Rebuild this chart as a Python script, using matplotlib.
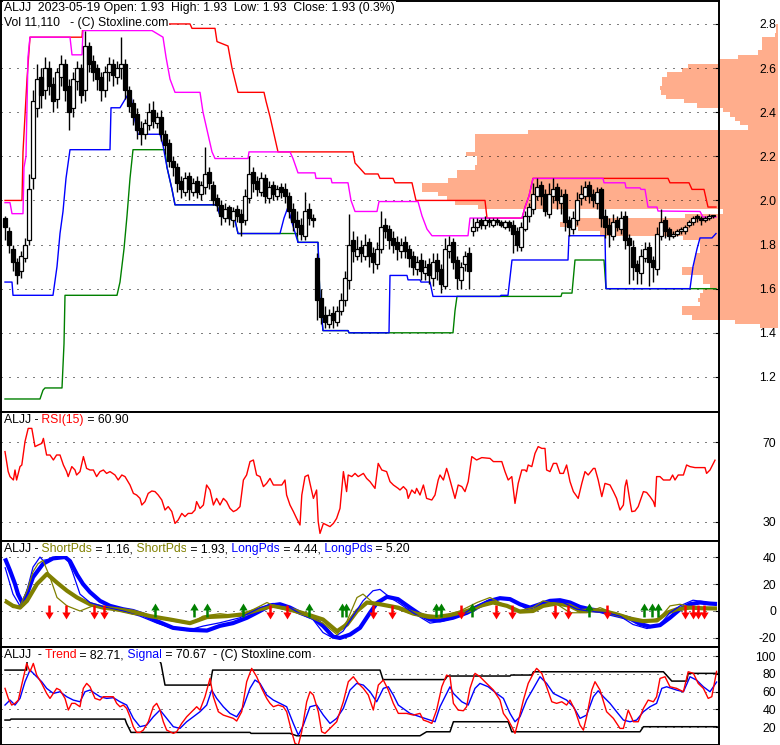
import matplotlib
matplotlib.use("Agg")
import matplotlib.pyplot as plt
import numpy as np
from matplotlib.path import Path

plt.rcParams['font.family'] = ['Liberation Sans', 'DejaVu Sans']
FS = 8.8

# ---------------- data ----------------
title1 = "ALJJ  2023-05-19 Open: 1.93  High: 1.93  Low: 1.93  Close: 1.93 (0.3%)"
title2 = "Vol 11,110   - (C) Stoxline.com"

closes = [1.88, 1.80, 1.72, 1.66, 1.75, 1.80, 2.05, 2.45, 2.55, 2.48,
          2.60, 2.52, 2.45, 2.58, 2.62, 2.50, 2.40, 2.55, 2.60, 2.48,
          2.70, 2.62, 2.58, 2.55, 2.50, 2.58, 2.62, 2.57, 2.60, 2.62,
          2.50, 2.43, 2.38, 2.32, 2.30, 2.35, 2.40, 2.36, 2.38, 2.30,
          2.25, 2.18, 2.15, 2.08, 2.05, 2.10, 2.05, 2.08, 2.04, 2.07,
          2.12, 2.08, 2.00, 1.98, 1.93, 1.96, 1.92, 1.95, 1.93, 1.90,
          2.02, 2.12, 2.08, 2.05, 2.10, 2.02, 2.06, 2.03, 2.05, 2.04,
          2.02, 1.95, 1.90, 1.88, 1.85, 1.95, 1.92, 1.91, 1.55, 1.47,
          1.45, 1.48, 1.46, 1.50, 1.55, 1.65, 1.80, 1.77, 1.78, 1.76,
          1.80, 1.75, 1.72, 1.78, 1.88, 1.86, 1.82, 1.80, 1.78, 1.80,
          1.77, 1.74, 1.70, 1.72, 1.68, 1.70, 1.66, 1.72, 1.68, 1.62,
          1.78, 1.80, 1.72, 1.65, 1.70, 1.75, 1.68, 1.88, 1.90, 1.89,
          1.91, 1.90, 1.91, 1.90, 1.89, 1.90, 1.88, 1.85, 1.80, 1.88,
          1.93, 1.97, 2.03, 2.06, 2.02, 1.95, 2.03, 2.05, 2.00, 2.02,
          1.90, 1.88, 1.92, 2.00, 2.03, 2.06, 2.02, 2.00, 2.04, 1.92,
          1.88, 1.85, 1.90, 1.88, 1.92, 1.82, 1.80, 1.70, 1.68, 1.75,
          1.78, 1.72, 1.70, 1.85, 1.90, 1.86, 1.84, 1.85, 1.86, 1.87,
          1.88, 1.90, 1.92, 1.92, 1.91, 1.92, 1.93, 1.93]

opens = [1.92, 1.86, 1.78, 1.72, 1.68, 1.74, 1.82, 2.10, 2.42, 2.56,
         2.50, 2.60, 2.53, 2.46, 2.56, 2.62, 2.52, 2.42, 2.54, 2.60,
         2.50, 2.70, 2.63, 2.60, 2.56, 2.50, 2.58, 2.62, 2.56, 2.60,
         2.62, 2.50, 2.44, 2.39, 2.33, 2.30, 2.34, 2.41, 2.35, 2.38,
         2.30, 2.26, 2.18, 2.15, 2.09, 2.04, 2.11, 2.04, 2.09, 2.03,
         2.06, 2.13, 2.07, 2.01, 1.98, 1.92, 1.97, 1.91, 1.96, 1.94,
         1.91, 2.01, 2.13, 2.09, 2.04, 2.10, 2.01, 2.07, 2.02, 2.06,
         2.05, 2.02, 1.96, 1.91, 1.89, 1.84, 1.96, 1.92, 1.74, 1.56,
         1.48, 1.44, 1.49, 1.45, 1.50, 1.55, 1.64, 1.82, 1.75, 1.79,
         1.75, 1.81, 1.76, 1.71, 1.78, 1.89, 1.87, 1.83, 1.81, 1.77,
         1.81, 1.78, 1.75, 1.69, 1.73, 1.67, 1.71, 1.65, 1.73, 1.69,
         1.61, 1.77, 1.81, 1.73, 1.64, 1.71, 1.76, 1.86, 1.88, 1.91,
         1.89, 1.91, 1.89, 1.91, 1.90, 1.88, 1.90, 1.89, 1.86, 1.79,
         1.87, 1.93, 1.96, 2.02, 2.07, 2.03, 1.94, 2.02, 2.06, 1.99,
         2.03, 1.91, 1.87, 1.91, 2.01, 2.02, 2.07, 2.03, 1.99, 2.05,
         1.93, 1.89, 1.84, 1.91, 1.87, 1.93, 1.83, 1.79, 1.71, 1.67,
         1.74, 1.79, 1.73, 1.69, 1.84, 1.91, 1.87, 1.84, 1.85, 1.86,
         1.86, 1.89, 1.90, 1.93, 1.92, 1.91, 1.92, 1.93]

highs = [1.93, 1.88, 1.80, 1.74, 1.77, 1.83, 2.12, 2.50, 2.62, 2.60,
         2.65, 2.63, 2.56, 2.60, 2.66, 2.64, 2.55, 2.58, 2.63, 2.62,
         2.77, 2.72, 2.66, 2.62, 2.58, 2.61, 2.65, 2.64, 2.63, 2.74,
         2.64, 2.52, 2.46, 2.42, 2.36, 2.37, 2.44, 2.45, 2.40, 2.41,
         2.32, 2.28, 2.20, 2.17, 2.11, 2.13, 2.13, 2.10, 2.11, 2.09,
         2.24, 2.15, 2.09, 2.03, 2.00, 1.99, 1.98, 1.97, 1.98, 1.96,
         2.05, 2.20, 2.15, 2.11, 2.13, 2.12, 2.09, 2.09, 2.07, 2.08,
         2.08, 2.04, 1.99, 1.95, 1.92, 2.04, 1.99, 1.94, 1.76, 1.60,
         1.52, 1.51, 1.52, 1.52, 1.58, 1.68, 1.94, 1.86, 1.84, 1.82,
         1.85, 1.83, 1.79, 1.81, 1.95, 1.92, 1.89, 1.86, 1.84, 1.83,
         1.84, 1.80, 1.77, 1.75, 1.76, 1.73, 1.74, 1.76, 1.76, 1.71,
         1.83, 1.84, 1.83, 1.75, 1.72, 1.77, 1.79, 1.92, 1.92, 1.92,
         1.93, 1.92, 1.92, 1.92, 1.91, 1.91, 1.91, 1.91, 1.88, 1.90,
         1.95, 1.99, 2.08, 2.10, 2.09, 2.05, 2.08, 2.10, 2.08, 2.05,
         2.05, 1.93, 1.95, 2.04, 2.07, 2.09, 2.09, 2.05, 2.06, 2.06,
         1.96, 1.92, 1.94, 1.93, 1.95, 1.95, 1.85, 1.82, 1.73, 1.78,
         1.81, 1.81, 1.75, 1.88, 1.96, 1.93, 1.88, 1.86, 1.87, 1.88,
         1.89, 1.91, 1.93, 1.94, 1.93, 1.93, 1.94, 1.93]

lows = [1.82, 1.76, 1.68, 1.62, 1.65, 1.72, 1.80, 2.05, 2.38, 2.42,
        2.46, 2.48, 2.40, 2.42, 2.52, 2.45, 2.32, 2.38, 2.50, 2.44,
        2.45, 2.58, 2.54, 2.50, 2.45, 2.47, 2.54, 2.52, 2.53, 2.55,
        2.46, 2.40, 2.34, 2.28, 2.25, 2.28, 2.32, 2.33, 2.33, 2.27,
        2.21, 2.15, 2.11, 2.04, 2.01, 2.02, 2.00, 2.02, 2.01, 2.00,
        2.03, 2.05, 1.98, 1.95, 1.89, 1.90, 1.89, 1.88, 1.90, 1.84,
        1.89, 1.99, 2.04, 2.02, 2.02, 1.99, 1.99, 2.00, 2.00, 2.01,
        1.99, 1.92, 1.86, 1.84, 1.82, 1.82, 1.89, 1.88, 1.46, 1.44,
        1.42, 1.42, 1.42, 1.43, 1.48, 1.52, 1.60, 1.72, 1.73, 1.72,
        1.73, 1.70, 1.67, 1.69, 1.76, 1.83, 1.78, 1.76, 1.73, 1.74,
        1.74, 1.70, 1.66, 1.66, 1.64, 1.64, 1.62, 1.61, 1.64, 1.58,
        1.60, 1.74, 1.69, 1.60, 1.60, 1.68, 1.60, 1.84, 1.86, 1.87,
        1.87, 1.88, 1.88, 1.89, 1.88, 1.87, 1.86, 1.76, 1.77, 1.77,
        1.86, 1.90, 1.94, 2.00, 1.98, 1.93, 1.92, 1.99, 1.96, 1.94,
        1.86, 1.84, 1.85, 1.89, 1.98, 2.00, 1.99, 1.97, 1.96, 1.88,
        1.83, 1.79, 1.82, 1.86, 1.85, 1.78, 1.62, 1.64, 1.62, 1.62,
        1.72, 1.61, 1.63, 1.66, 1.82, 1.83, 1.82, 1.83, 1.84, 1.85,
        1.85, 1.88, 1.89, 1.90, 1.89, 1.90, 1.91, 1.92]

# price channels: (bar index, price)
long_high = [(0, 2.00), (4.25, 2.00), (4.5, 2.22), (5.5, 2.55), (6.25, 2.74), (19.25, 2.74),
             (19.5, 2.80), (46.25, 2.80), (46.75, 2.78), (52.5, 2.78), (53, 2.72), (55.75, 2.70),
             (56.75, 2.60), (58.25, 2.49), (64.75, 2.49), (65.25, 2.45), (66.25, 2.38), (67.5, 2.28),
             (68.25, 2.22), (87, 2.22), (87.5, 2.17), (88.5, 2.15), (90, 2.12), (93.25, 2.12),
             (93.75, 2.10), (97, 2.10), (97.5, 2.08), (101.75, 2.08), (102.75, 2.00), (120, 2.00),
             (120.5, 1.92), (129.25, 1.92), (130, 1.97), (131, 2.02), (132, 2.10), (165.75, 2.10),
             (166.25, 2.08), (171, 2.08), (171.75, 2.05), (174.75, 2.05), (175.75, 1.97), (177.75, 1.97)]
short_high = [(0, 1.99), (1.25, 1.99), (1.75, 1.94), (4.5, 1.94), (4.75, 2.15), (5.25, 2.20),
              (5.75, 2.65), (6.25, 2.74), (16.25, 2.74), (16.75, 2.66), (19.25, 2.66), (19.5, 2.77),
              (36.75, 2.77), (39.5, 2.74), (40.25, 2.65), (41.25, 2.55), (42.5, 2.49), (48.75, 2.49),
              (49.5, 2.40), (50.5, 2.32), (51.75, 2.22), (52.5, 2.19), (60.75, 2.19), (61, 2.22),
              (71.25, 2.22), (72, 2.19), (73.25, 2.125), (77.5, 2.125), (77.75, 2.10), (81.5, 2.10),
              (81.75, 2.08), (85.75, 2.08), (86.5, 2.00), (87.5, 1.95), (93, 1.95), (93.5, 1.995),
              (103.25, 1.995), (104.25, 1.93), (105.5, 1.87), (106.75, 1.84), (115.75, 1.84),
              (116.25, 1.92), (129.25, 1.92), (130, 1.97), (131, 2.02), (132, 2.10), (149.5, 2.10),
              (149.75, 2.08), (155, 2.08), (155.25, 2.057), (158.75, 2.057), (159, 2.05), (160, 2.05),
              (160.75, 1.97), (163, 1.97), (163.25, 1.952), (173.75, 1.95), (174.5, 1.925), (177.75, 1.925)]
short_low = [(0, 1.63), (1.75, 1.63), (2, 1.57), (12, 1.57), (13, 1.70), (13.75, 1.85), (14.5, 1.95),
             (15.25, 2.10), (16.25, 2.23), (26.25, 2.23), (26.5, 2.42), (28.75, 2.42), (29.75, 2.45),
             (30.75, 2.48), (31.5, 2.48), (32, 2.40), (33.25, 2.30), (38.75, 2.30), (39.5, 2.25),
             (40.5, 2.15), (41.75, 2.05), (42.5, 1.98), (53, 1.98), (53.75, 1.93), (57.5, 1.91),
             (58.25, 1.85), (68.75, 1.85), (69.75, 1.92), (70.75, 1.97), (71.75, 1.90), (73.25, 1.81),
             (78.25, 1.81), (78.75, 1.55), (79.5, 1.41), (85.75, 1.41), (86, 1.40), (96, 1.40),
             (96.25, 1.66), (100.5, 1.66), (100.75, 1.64), (103.75, 1.64), (104, 1.63), (106.25, 1.63),
             (107, 1.565), (123.75, 1.565), (124, 1.57), (125.75, 1.57), (126.75, 1.73), (140.75, 1.73),
             (141, 1.84), (150, 1.84), (150.25, 1.60), (171.25, 1.60), (172, 1.70), (173, 1.78),
             (173.75, 1.83), (176.75, 1.83), (177.75, 1.85)]
long_low = [(0, 1.10), (8.75, 1.10), (9.5, 1.14), (10, 1.15), (14.25, 1.15), (14.75, 1.35), (15, 1.57),
            (28, 1.57), (28.75, 1.63), (29.75, 1.78), (30.5, 1.93), (31.25, 2.10), (32, 2.23), (40, 2.23),
            (40.5, 2.15), (41.75, 2.05), (42.5, 1.98), (53, 1.98), (53.75, 1.93), (57.5, 1.91),
            (58.25, 1.85), (73, 1.85), (73.25, 1.81), (78.25, 1.81), (78.75, 1.55), (79.5, 1.41),
            (85.75, 1.41), (86, 1.40), (112, 1.40), (112.5, 1.50), (113, 1.565), (139, 1.565),
            (139.25, 1.58), (141.75, 1.58), (142.25, 1.68), (142.5, 1.73), (149.75, 1.73),
            (150.25, 1.60), (177.75, 1.60)]

# volume-by-price profile
prof_price = [1.43, 1.45, 1.47, 1.49, 1.51, 1.53, 1.55, 1.57, 1.59, 1.61,
              1.63, 1.65, 1.67, 1.69, 1.71, 1.73, 1.75, 1.77, 1.79, 1.81,
              1.83, 1.85, 1.87, 1.89, 1.91, 1.93, 1.95, 1.97, 1.99, 2.01,
              2.03, 2.05, 2.07, 2.09, 2.11, 2.13, 2.15, 2.17, 2.19, 2.21,
              2.23, 2.25, 2.27, 2.29, 2.31, 2.33, 2.35, 2.37, 2.39, 2.41,
              2.43, 2.45, 2.47, 2.49, 2.51, 2.53, 2.55, 2.57, 2.59, 2.61,
              2.63, 2.65, 2.67, 2.69, 2.71, 2.73, 2.75, 2.77, 2.79]
prof_vol = [18, 43, 86, 96, 96, 78, 80, 78, 75, 68,
            75, 75, 96, 96, 84, 84, 83, 78, 78, 78,
            95, 178, 200, 218, 203, 93, 55, 300, 323, 331,
            340, 356, 356, 330, 321, 321, 303, 301, 301, 312,
            303, 303, 303, 303, 250, 30, 38, 43, 48, 55,
            81, 94, 112, 117, 118, 116, 116, 111, 96, 90,
            60, 40, 20, 16, 16, 16, 3, 2, 2]

# RSI(15): (bar index, value)
rsi = [(0, 65.2), (0.8, 55.2), (1.25, 52.7), (2.1, 51), (2.5, 56), (2.9, 51), (3.75, 57.7), (4.2, 58.5),
       (5, 70.2), (5.8, 76.8), (6.7, 76.8), (7.5, 67.7), (8.3, 68.5), (9.2, 69.3), (9.6, 71.8),
       (10.4, 63.5), (11.25, 63.5), (12.1, 61), (12.9, 63.5), (13.75, 63.5), (14.6, 58.5), (15.4, 55.2),
       (15.8, 52.7), (16.7, 57.7), (17.5, 56), (17.9, 53.5), (18.75, 55.2), (19.6, 62.7), (20.4, 56.8),
       (21.25, 56), (22.1, 56), (22.9, 52.7), (23.75, 55.2), (24.6, 56), (25.4, 54.3), (26.25, 55.2),
       (27.5, 53.5), (28.3, 51), (29.2, 53.5), (30, 52.7), (31.25, 48.5), (32.1, 44.3), (32.9, 43.5),
       (33.75, 41.8), (34.2, 38.5), (35, 40.2), (35.8, 44.3), (36.7, 45.5), (37.5, 45.2), (38.3, 43.5),
       (39.2, 41), (40, 36), (40.8, 37.7), (41.7, 35.2), (42.5, 29.3), (43.3, 31), (44.2, 34.3),
       (45, 32.7), (45.8, 34.3), (46.7, 34.3), (47.5, 36), (47.9, 40.2), (48.75, 36.8), (49.6, 38.5),
       (50.4, 48.5), (51.25, 46), (52.1, 38.5), (52.9, 41.8), (53.75, 38.5), (54.6, 41.8), (55.4, 40.2),
       (56.25, 36.8), (57.1, 35.2), (57.9, 36), (58.75, 37.7), (59.6, 51), (60.4, 53.5), (61.25, 60.2),
       (62.1, 61), (62.9, 53.5), (63.75, 52.7), (64.6, 47.7), (65.4, 49.3), (66.25, 51.8), (67.1, 48.5),
       (67.9, 48.5), (69.2, 48.5), (70, 51), (70.4, 43.5), (71.25, 38.5), (72.1, 35.2), (72.9, 31.8),
       (73.75, 28.5), (74.2, 43.5), (75, 52.7), (75.8, 53.5), (76.25, 49.3), (77.1, 41.8), (77.9, 46),
       (78.3, 30.2), (78.75, 24.3), (79.6, 29.3), (80.4, 28.5), (81.25, 27.7), (82.1, 29.3), (82.9, 31.8),
       (83.75, 36.8), (84.6, 55.2), (85.4, 45.2), (85.8, 53.5), (86.7, 52.7), (87.5, 54.3), (88.3, 52.7),
       (89.6, 54.3), (90.4, 51.8), (91.25, 50.2), (92.5, 46.8), (93.3, 59.3), (94.2, 56), (95.4, 55.2),
       (96.25, 50.2), (97.1, 48.5), (98.3, 46.8), (98.75, 46), (99.6, 47.7), (100.4, 46), (100.8, 41.8),
       (101.7, 46), (102.5, 44.3), (102.9, 46.8), (103.75, 43.5), (104.6, 48.5), (105.4, 41.8),
       (106.7, 41), (107.5, 43.5), (108.3, 51), (108.75, 53.5), (109.6, 51), (110.4, 56.8), (110.8, 54.3),
       (111.7, 47.7), (112.5, 41.8), (113.3, 48.5), (114.2, 47.7), (115, 45.2), (115.8, 50.2),
       (116.7, 62.7), (117.9, 61), (119.2, 62.2), (121.25, 61.8), (122.1, 60.2), (122.9, 60.2),
       (124.2, 60.2), (125, 55.2), (125.8, 51), (126.7, 52.7), (127.5, 39.3), (128.3, 49.3), (129.2, 56),
       (130, 56), (130.4, 55.2), (130.8, 58.5), (131.7, 57.7), (132.5, 64.3), (133.3, 67.7), (134.2, 66.8),
       (135, 66.8), (135.4, 56), (136.25, 55.2), (137.1, 59.3), (137.9, 59.3), (138.75, 54.3),
       (139.6, 54.3), (140.4, 58.5), (141.25, 50.2), (142.1, 45.2), (143.3, 41.8), (144.2, 49.3),
       (145, 55.2), (145.8, 53.5), (147.1, 56.8), (147.5, 56.8), (148.3, 51), (149.2, 42.7), (150, 49.3),
       (151.25, 48.5), (152.1, 45.2), (152.9, 41.8), (153.75, 36), (154.6, 38.5), (155, 47.7), (155.4, 51),
       (156.25, 40.2), (156.7, 35.2), (157.5, 35.5), (158.3, 37.7), (159.6, 45.2), (160.4, 44.8),
       (161.25, 42.7), (162.1, 40.2), (162.5, 37.7), (162.9, 52.7), (163.75, 52.7), (164.6, 51),
       (166.25, 51), (166.9, 53.5), (167.5, 51), (168.3, 53.5), (169.6, 53.5), (170.4, 58.5),
       (171.25, 57.7), (172.5, 57.2), (175, 57.2), (175.4, 54.3), (176.25, 56), (177.5, 60.9)]

# ShortPds / LongPds oscillators: (bar index, value)
long_thick = [(0, 39), (1.25, 30), (2.5, 20), (3.25, 12.5), (4.5, 5), (5.5, 12.5), (7, 25), (9.5, 35),
              (12, 39), (15, 40), (16.25, 37), (18, 27), (19.5, 20), (21.25, 14), (23.75, 7.5),
              (26.25, 3.8), (29.5, 1.3), (32, 0), (34.5, -2.5), (38, -7.5), (42, -12.5), (46.25, -14),
              (50.5, -14.5), (53.75, -11), (57, -9), (60.5, -5), (63.75, 0), (66.25, 4), (68.75, 5),
              (71.25, 2.5), (73.75, -1.3), (77, -5), (79.5, -11), (82, -19), (83.75, -20), (86.25, -17.5),
              (88.75, -12.5), (91.25, -1.3), (93, 6), (95.5, 10.5), (98.25, 8.8), (101.25, 2.5),
              (103.75, -2.5), (106.25, -6.4), (108.75, -7), (112, -5), (115.5, -1.3), (118.75, 3.8),
              (121.25, 7.5), (123.75, 9.5), (126.25, 8.8), (128.75, 5), (131.25, 2.5), (133.75, 5),
              (136.25, 7.5), (138.75, 8), (141.25, 6.3), (143.75, 3), (146.25, 1.3), (148.75, 0),
              (151.25, -2), (153.75, -3.8), (156.25, -5.6), (158.75, -9.6), (161.25, -11.6),
              (163.75, -10.5), (166.25, -5), (168.75, 1.3), (171.25, 5), (173.75, 6.3), (176.25, 5.5),
              (178, 5.2)]
short_thick = [(0, 7.5), (2, 3.8), (3.75, 2.5), (5.5, 7.5), (8, 20), (10.5, 27.5), (13, 21), (15.5, 15),
               (18, 10), (21.25, 5), (24.5, 2.5), (28, 1.3), (32, -0.5), (36.25, -3.8), (41.25, -6.3),
               (46.25, -9), (50.5, -4.5), (55.5, -3.8), (59.5, -2.5), (63.75, 1.3), (67, 3.8),
               (71.25, 1.3), (75.5, -2.5), (79.5, -6.3), (83, -15), (85.5, -10), (88, 0), (90.5, 6.3),
               (93.75, 5), (98.25, 2.5), (102, -1.3), (105.5, -3.8), (108, -4.5), (111.25, -3),
               (115.5, 0), (118.75, 3.8), (122, 6.3), (125.5, 3.8), (128.75, -0.5), (132, 0),
               (134.5, 3.8), (138, 5.6), (141.25, 3.8), (143.75, 0), (147, 0.5), (149.5, 0),
               (153, -2.5), (156.25, -5.6), (159.5, -7.5), (163, -7), (165.5, -1.3), (168, 1.3),
               (171.25, 2.5), (174.5, 2), (178, 1.9)]
long_thin = [(0, 32.5), (2, 12.5), (3.75, 3.8), (5.5, 15), (7, 32.5), (8.75, 40), (9.5, 37.5),
             (13.75, 40), (15.5, 39), (16.75, 30), (18.75, 12.5), (21.25, 6.3), (25.5, 2.5), (29.5, 0),
             (33.75, -3.8), (38, -9), (42, -13), (45.5, -14.5), (49.5, -11.2), (53.75, -8.7),
             (58.75, -5), (63.75, 2.5), (67, 5.6), (70.5, 3.8), (73.75, -2), (77, -6.3), (79.5, -16),
             (82, -20), (84.5, -15), (87, -3.8), (89.5, 7.5), (92, 15), (93.75, 16), (96.25, 10),
             (98.25, 6.3), (102, -1.3), (106.25, -9), (109.5, -7.5), (113.75, -3.8), (117, 2.5),
             (120.5, 7.5), (123.75, 10), (127, 7.5), (130.5, 1.3), (133.75, 5), (136.25, 7.5),
             (139.5, 6.3), (143, 1.3), (147, -0.5), (150.5, -1.3), (153.75, -3.8), (157, -10),
             (160.5, -13), (163.75, -10), (166.25, -1.3), (168.75, 3.8), (172, 8), (174.5, 7), (178, 4.4)]
short_thin = [(0, 8.8), (2, 2.5), (3.75, 3.8), (5.5, 15), (7, 29), (8.25, 35), (9.5, 37.5), (11.25, 25),
              (13, 10), (15.5, 3.8), (18.75, 0), (22, 3.8), (26.25, 1.3), (32, -2.5), (36.25, -3.8),
              (42, -7.5), (46.25, -9.5), (49.5, -3.8), (53.75, -2), (58.75, -3.8), (63, 2.5),
              (65.5, 6.3), (68, 2.5), (71.25, 0), (75.5, -3.8), (79.5, -9), (83, -17.5), (85.5, -7.5),
              (88, 10), (89.5, 12.5), (92, 6.3), (95.5, 3.8), (98.25, 1.3), (102, -3), (106.25, -5.6),
              (110.5, -3), (113.75, 0), (118, 6.3), (121.25, 10), (124.5, 5), (128, 0), (132, 2.5),
              (134.5, 7.5), (138, 5), (141.25, -1.3), (145.5, -1.3), (148.75, 2.5), (152, -1.3),
              (156.25, -5), (160.5, -8), (163.75, -5), (166.25, 3.8), (168.75, 5), (172, 2.5),
              (175.5, 2.5), (178, 1.2)]
buy_signals = [37.5, 47.25, 50.5, 59.5, 76, 84.25, 85.25, 107.75, 109, 116.75, 146, 159.75, 161.75, 163.25]
sell_signals = [11, 15.25, 22.25, 24.75, 66.25, 70.5, 92, 96.75, 114, 122.75, 126.75, 137.5, 140.75,
                150.5, 170, 172, 173.25, 174.75]

# Trend / Signal: (bar index, value)
trend = [(0, 63.6), (0.83, 52.3), (1.67, 44.8), (2.5, 46.7), (3.33, 50.4), (4.17, 67.3), (5.42, 91.7),
         (6.25, 82.4), (7.08, 91.7), (7.92, 78.6), (9.17, 69.2), (10.42, 57.9), (11.25, 52.3),
         (12.08, 57.9), (12.92, 63.6), (13.75, 61.7), (15, 52.3), (15.83, 39.2), (16.67, 46.7),
         (17.5, 46.7), (18.75, 42.9), (19.58, 63.6), (20.42, 69.2), (21.25, 65.4), (22.5, 52.3),
         (23.75, 50.4), (24.58, 54.2), (25.83, 54.2), (27.08, 54.2), (27.92, 46.7), (28.75, 42.9),
         (29.58, 44.8), (30.42, 41), (31.25, 31.6), (32.08, 20.4), (32.92, 14), (33.75, 14),
         (34.58, 16.6), (35.83, 26), (37.08, 42.9), (37.92, 46.7), (38.75, 39.2), (39.58, 26),
         (40.42, 16.6), (41.25, 14.7), (42.08, 12.9), (42.92, 14.7), (44.17, 24.1), (45.42, 31.6),
         (46.67, 37.3), (47.92, 42.9), (48.75, 39.2), (50, 54.2), (51.25, 74.8), (52.08, 54.2),
         (53.33, 37.3), (54.58, 33.5), (55.83, 31.6), (57.08, 29.8), (57.92, 26.8), (59.17, 37.3),
         (60.42, 71.1), (61.67, 86.1), (62.92, 76.7), (64.17, 63.6), (65.42, 52.3), (66.25, 46.7),
         (67.08, 42.9), (68.33, 44.8), (69.58, 42.9), (70.42, 37.3), (71.67, 14.7), (72.5, 1.6),
         (73.33, -0.3), (74.17, 14.7), (75.42, 48.5), (76.25, 59.8), (77.08, 56.1), (78.33, 37.3),
         (79.17, 14.7), (80, 12.9), (81.25, 18.5), (82.92, 26), (84.58, 48.5), (85.83, 71.1),
         (87.08, 76.7), (88.33, 69.2), (89.58, 63.6), (90.83, 56.1), (92.08, 39.2), (93.33, 67.3),
         (94.58, 73), (95.83, 61.7), (97.08, 46.7), (98.33, 35.4), (100.4, 35.4), (102.1, 33.5),
         (103.75, 35.4), (104.6, 27.9), (105.8, 26), (106.7, 24.1), (107.9, 39.1), (109.2, 65.4),
         (110.4, 78.6), (111.25, 76.7), (112.1, 46.7), (113.3, 39.1), (114.6, 38.4), (115.4, 42.9),
         (116.25, 63.6), (117.5, 80.5), (118.75, 76.7), (120.4, 69.2), (122.1, 61.7), (123.75, 50.4),
         (124.6, 35.4), (125.8, 27.9), (126.7, 20.4), (127.5, 12.9), (128.3, 26), (129.6, 50.4),
         (130.8, 69.2), (132.1, 80.5), (132.9, 86.1), (134.2, 80.5), (135.4, 65.4), (136.7, 48.5),
         (137.9, 46.7), (139.2, 48.5), (140.4, 44.8), (141.25, 50.4), (142.5, 39.1), (143.75, 22.2),
         (144.6, 16.6), (145.4, 31.6), (146.7, 61.7), (147.5, 71.1), (148.75, 61.7), (150.4, 37.3),
         (152.1, 29.8), (153.75, 18.5), (154.6, 18.5), (155.8, 39.1), (157.1, 26), (158.3, 26),
         (159.6, 41), (160.8, 50.4), (162.1, 48.5), (162.9, 54.2), (163.75, 74.8), (165, 76.7),
         (166.25, 65.4), (167.9, 63.6), (169.6, 59.8), (170.8, 82.3), (172.1, 80.5), (173.3, 69.2),
         (174.6, 63.6), (175.8, 52.3), (176.7, 54.2), (177.9, 82.7)]
signal = [(0, 44.8), (1.25, 50.4), (2.5, 44.8), (3.75, 52.3), (5, 71.1), (6.25, 84.2), (7.5, 78.6),
          (9.17, 71.1), (10.42, 63.6), (12.08, 57.9), (13.75, 59.8), (15.42, 54.2), (17.08, 50.4),
          (18.75, 48.5), (20, 59.8), (21.25, 61.7), (22.5, 57.9), (23.75, 54.2), (25.42, 52.3),
          (27.08, 53.1), (28.75, 48.5), (30.42, 44.8), (32.08, 29.8), (33.75, 20.4), (35.42, 22.2),
          (37.08, 31.6), (38.75, 39.2), (40.42, 29.8), (42.08, 20.4), (43.75, 18.5), (45.42, 26),
          (47.08, 31.6), (48.75, 37.3), (50.42, 44.8), (51.67, 61.7), (52.92, 52.3), (54.58, 42.9),
          (56.25, 35.4), (57.92, 31.6), (59.58, 42.9), (61.25, 63.6), (62.5, 73), (63.75, 69.2),
          (65.42, 56.1), (67.08, 50.4), (68.75, 46.7), (70.42, 42.9), (72.08, 24.1), (73.33, 11),
          (74.58, 22.2), (76.25, 42.9), (77.92, 44.8), (79.58, 33.5), (81.25, 24.1), (82.92, 29.8),
          (84.58, 41), (86.25, 61.7), (87.92, 69.2), (89.58, 67.3), (91.25, 59.8), (92.92, 48.5),
          (94.58, 63.6), (95.83, 65.4), (97.08, 56.1), (98.33, 44.8), (101.25, 35.4), (103.75, 31.6),
          (106.25, 27.9), (107.5, 26), (108.75, 42.9), (110, 54.2), (111.25, 65.4), (112.1, 57.9),
          (114.2, 48.5), (115.8, 44.8), (117.5, 63.6), (118.75, 69.2), (120.8, 65.4), (122.9, 57.9),
          (124.6, 52.3), (126.25, 35.4), (127.5, 26), (128.75, 31.6), (130.4, 50.4), (132.1, 63.6),
          (133.75, 76.7), (135.4, 69.2), (137.1, 57.9), (138.75, 54.2), (140.4, 50.4), (142.1, 42.9),
          (143.75, 29.8), (145.4, 33.5), (147.1, 54.2), (148.3, 60.9), (149.6, 54.2), (151.25, 46.7),
          (152.9, 37.3), (154.6, 27.9), (156.25, 26), (157.9, 27.9), (159.6, 37.3), (161.25, 42.9),
          (162.9, 46.7), (164.2, 63.6), (165.4, 65.4), (167.9, 61.7), (169.6, 59.8), (171.25, 76.7),
          (172.9, 72.9), (174.6, 65.4), (176.25, 59.8), (177.9, 70.7)]
trend_upper = [(0, 84.2), (5.4, 84.2), (5.6, 100), (38, 100), (39, 91.7), (40, 67.3), (51.25, 67.3),
               (51.9, 84.2), (93.75, 84.2), (94.5, 73.5), (110, 73.5), (110.6, 77.5), (126.25, 77.5),
               (126.5, 78.6), (131.7, 78.6), (132.1, 82.3), (164.6, 82.3), (166.7, 71.8), (170.4, 71.8),
               (170.8, 80.5), (178, 80.5)]
trend_lower = [(0, 27.9), (1.25, 27.9), (1.5, 29), (30, 29), (30.4, 24), (31.5, 14), (61.25, 14),
               (61.5, 12.9), (71.25, 12.9), (72.9, 10.2), (103.75, 10.2), (105.4, 14.7), (111.25, 14.7),
               (112.1, 26), (125.8, 26), (126.7, 14.7), (158.75, 14.7), (159.6, 20.4), (178, 20.4)]

price_ticks = [1.2, 1.4, 1.6, 1.8, 2.0, 2.2, 2.4, 2.6, 2.8]
rsi_ticks = [30, 70]
osc_ticks = [-20, 0, 20, 40]
trend_ticks = [20, 40, 60, 80, 100]

# ---------------- layout ----------------
W, H, DPI = 780, 745, 100
fig = plt.figure(figsize=(W / DPI, H / DPI), dpi=DPI, facecolor='white')


def px_rect(x0, y0, x1, y1):
    return [x0 / W, 1 - y1 / H, (x1 - x0) / W, (y1 - y0) / H]


XLIM = (-1, 178.5)
PRICE_LIM = (1.041, 2.904)

ax_prof = fig.add_axes(px_rect(0, 1, 780, 412), zorder=0)
ax = fig.add_axes(px_rect(1, 1, 719, 412), zorder=2)
ax_rsi = fig.add_axes(px_rect(1, 412, 719, 541), zorder=2)
ax_osc = fig.add_axes(px_rect(1, 541, 719, 647), zorder=2)
ax_tr = fig.add_axes(px_rect(1, 647, 719, 745), zorder=2)

ax.set_facecolor('none')


def style(a, ylim, ticks, fmt):
    a.set_xlim(*XLIM)
    a.set_ylim(*ylim)
    a.set_xticks([])
    a.yaxis.tick_right()
    a.set_yticks(ticks)
    a.set_yticklabels([fmt(t) for t in ticks], ha='right')
    a.tick_params(axis='y', direction='in', length=3, width=0.8, pad=41,
                  labelsize=FS, colors='black')
    a.grid(axis='y', color='black', linewidth=0.72, linestyle=(0, (1, 7)))
    a.set_axisbelow(True)
    for s in a.spines.values():
        s.set_linewidth(1.4)


style(ax, PRICE_LIM, price_ticks, lambda t: f"{t:.1f}")
style(ax_rsi, (20.5, 85), rsi_ticks, lambda t: f"{t:d}")
style(ax_osc, (-26.7, 51.9), osc_ticks, lambda t: f"{t:d}")
style(ax_tr, (-0.2, 110.2), trend_ticks, lambda t: f"{t:d}")

# volume profile (anchored at the right edge of the figure)
ax_prof.barh(prof_price, prof_vol, height=0.02, color='#FFAD8C', linewidth=0)
ax_prof.set_xlim(778, -2)
ax_prof.set_ylim(*PRICE_LIM)
ax_prof.axis('off')


def xy(pts):
    a = np.array(pts, dtype=float)
    return a[:, 0], a[:, 1]


# channels
for pts, col in [(long_low, '#008000'), (short_low, '#0000ff'), (long_high, '#ff0000'),
                 (short_high, '#ff00ff')]:
    x, y = xy(pts)
    ax.plot(x, y, color=col, lw=1.0, zorder=3)

# candles
idx = np.arange(len(closes))
o = np.array(opens); c = np.array(closes); hi = np.array(highs); lo = np.array(lows)
ax.vlines(idx, lo, hi, color='black', lw=1.0, zorder=4)
up = c >= o
body_lo = np.minimum(o, c)
body_h = np.maximum(np.abs(c - o), 0.005)
ax.bar(idx[up], body_h[up], bottom=body_lo[up], width=0.85, facecolor='white',
       edgecolor='black', linewidth=0.9, zorder=5)
ax.bar(idx[~up], body_h[~up], bottom=body_lo[~up], width=0.85, facecolor='black',
       edgecolor='black', linewidth=0.9, zorder=5)

# RSI
x, y = xy(rsi)
ax_rsi.plot(x, y, color='#ff0000', lw=1.0)

# oscillators
for pts, col, lw in [(long_thick, '#0000ff', 3.0), (short_thick, '#808000', 3.0),
                     (long_thin, '#0000ff', 0.9), (short_thin, '#808000', 0.9)]:
    x, y = xy(pts)
    ax_osc.plot(x, y, color=col, lw=lw, solid_capstyle='butt')

down_v = [(-0.18, 1), (0.18, 1), (0.18, 0), (0.6, 0), (0, -1), (-0.6, 0), (-0.18, 0), (-0.18, 1)]
down_arrow = Path(down_v, closed=True)
up_arrow = Path([(vx, -vy) for vx, vy in down_v], closed=True)
ax_osc.plot(sell_signals, np.full(len(sell_signals), -0.5), ls='none', marker=down_arrow,
            ms=10, color='#ff0000', mew=0, zorder=5)
ax_osc.plot(buy_signals, np.full(len(buy_signals), 0.7), ls='none', marker=up_arrow,
            ms=10, color='#008000', mew=0, zorder=5)

# Trend
for pts, col, lw in [(trend_upper, 'black', 1.1), (trend_lower, 'black', 1.1),
                     (signal, '#0000ff', 1.0), (trend, '#ff0000', 1.0)]:
    x, y = xy(pts)
    ax_tr.plot(x, y, color=col, lw=lw)

# ---------------- texts ----------------
BOX = dict(facecolor='white', edgecolor='none', pad=0.6)


def seg_text(a, x_px, y_px, parts):
    bb = a.get_position()
    fx = (bb.x0 * W + x_px) / W
    fy = 1 - y_px / H
    t = fig.text(fx, fy, parts[0][0], color=parts[0][1], fontsize=FS, va='top', ha='left',
                 bbox=BOX, zorder=20)
    for s, col in parts[1:]:
        t = a.annotate(s, xy=(1, 0), xycoords=t, va='bottom', ha='left', color=col,
                       fontsize=FS, bbox=BOX, zorder=20)
    return t


seg_text(ax, 3, 2, [(title1, 'black')])
seg_text(ax, 3, 17, [(title2, 'black')])
seg_text(ax_rsi, 3, 414, [("ALJJ -", 'black'), (" RSI(15)", '#ff0000'), (" = 60.90", 'black')])
seg_text(ax_osc, 3, 543, [("ALJJ -", 'black'), (" ShortPds", '#808000'), (" = 1.16,", 'black'),
                          (" ShortPds", '#808000'), (" = 1.93,", 'black'), (" LongPds", '#0000ff'),
                          (" = 4.44,", 'black'), (" LongPds", '#0000ff'), (" = 5.20", 'black')])
seg_text(ax_tr, 3, 649, [("ALJJ  -", 'black'), (" Trend", '#ff0000'), (" = 82.71,", 'black'),
                         (" Signal", '#0000ff'), (" = 70.67  - (C) Stoxline.com", 'black')])

fig.savefig('out.png', dpi=DPI, facecolor='white')
